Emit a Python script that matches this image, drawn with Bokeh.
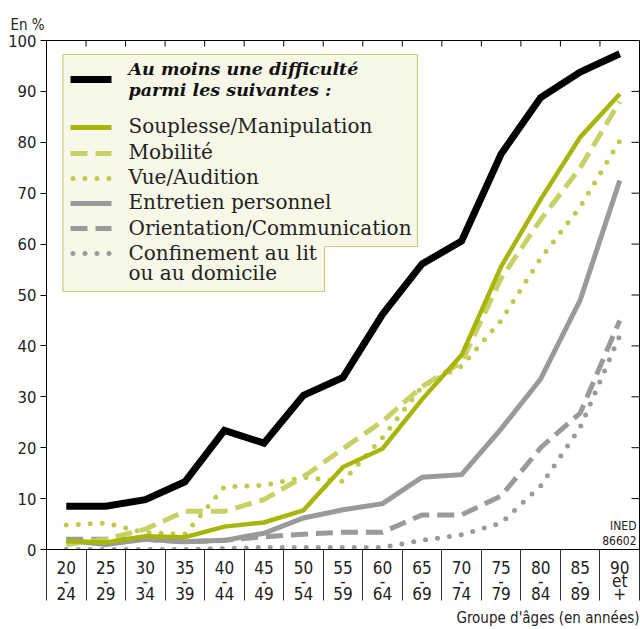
from bokeh.plotting import figure
from bokeh.models import FixedTicker, Title, Range1d
from bokeh.core.properties import value
from bokeh.embed import file_html
from bokeh.resources import INLINE

# ---------------- data ----------------
age_top = ["20", "25", "30", "35", "40", "45", "50", "55", "60", "65", "70", "75", "80", "85", "90"]
age_mid = ["-", "-", "-", "-", "-", "-", "-", "-", "-", "-", "-", "-", "-", "-", "et"]
age_bot = ["24", "29", "34", "39", "44", "49", "54", "59", "64", "69", "74", "79", "84", "89", "+"]

au_moins = [8.5, 8.5, 9.8, 13.3, 23.4, 20.9, 30.3, 33.8, 46.2, 56.1, 60.6, 77.7, 88.8, 93.8, 97.4]
souplesse = [1.6, 1.4, 2.6, 2.4, 4.5, 5.3, 7.7, 16.2, 19.8, 29.5, 38.2, 55.6, 68.8, 81.0, 89.5]
mobilite = [1.0, 2.0, 4.0, 7.5, 7.5, 9.8, 14.3, 19.8, 25.2, 32.0, 36.8, 53.3, 64.8, 75.0, 88.0]
vue = [4.8, 5.2, 3.3, 3.0, 12.3, 12.6, 14.2, 13.4, 22.0, 32.0, 36.0, 45.0, 57.2, 67.3, 80.3]
entretien = [1.8, 1.0, 2.0, 1.5, 1.8, 3.2, 6.2, 7.8, 9.0, 14.2, 14.7, 23.7, 33.5, 49.0, 72.5]
orientation = [2.0, 2.0, 2.0, 1.5, 1.8, 2.5, 3.0, 3.4, 3.4, 6.8, 6.8, 10.5, 20.0, 26.8, 45.0]
confinement = [0.0, 0.0, 0.0, 0.0, 0.2, 0.4, 0.4, 0.4, 0.4, 1.8, 2.9, 5.2, 12.5, 24.0, 42.0]

y_ticks = [0, 10, 20, 30, 40, 50, 60, 70, 80, 90, 100]

legend_title = ["Au moins une difficulté", "parmi les suivantes :"]
legend_labels = ["Souplesse/Manipulation", "Mobilité", "Vue/Audition",
                 "Entretien personnel", "Orientation/Communication",
                 "Confinement au lit", "ou au domicile"]

# ---------------- styles ----------------
SANS = "DejaVu Sans Condensed"
SERIF = "DejaVu Serif"
TXT = "#222222"
GREEN = "#a8b60c"
GREEN_L = "#c8d166"
GREEN_D = "#c0cb4e"
GRAY = "#9a9a9a"
DASH = "17 8"
DOT = "0 12"

n = len(age_top)
xs = list(range(n))
bounds = [i - 0.5 for i in range(n + 1)]

FW, FH = 593, 509
px_x = FW / n          # pixels per x unit
px_y = FH / 100.0      # pixels per y unit

p = figure(frame_width=FW, frame_height=FH,
           x_range=Range1d(-0.5, n - 0.5), y_range=Range1d(0, 100),
           output_backend="svg", toolbar_location=None,
           min_border_left=46, min_border_right=1,
           min_border_top=40, min_border_bottom=80)

p.background_fill_color = "white"
p.border_fill_color = "white"
p.outline_line_color = "black"
p.outline_line_width = 1
p.grid.visible = False

# title "En %"
p.title.text = "En %"
p.title.align = "left"
p.title.offset = -36
p.title.text_font = SANS
p.title.text_font_size = "15px"
p.title.text_font_style = "normal"
p.title.text_color = TXT
p.title.standoff = 14

# x axis: labels at centres, separators as minor ticks
xa = p.xaxis[0]
xa.ticker = FixedTicker(ticks=xs, minor_ticks=bounds)
xa.major_label_overrides = {i: f"{age_top[i]}\n{age_mid[i]}\n{age_bot[i]}" for i in xs}
xa.major_tick_in = 0
xa.major_tick_out = 0
xa.minor_tick_in = 0
xa.minor_tick_out = 51
xa.minor_tick_line_color = "#333333"
xa.minor_tick_line_width = 1
xa.axis_line_color = "black"
xa.major_label_standoff = -43
xa.major_label_text_font = SANS
xa.major_label_text_font_size = "17px"
xa.major_label_text_line_height = 0.66
xa.major_label_text_color = TXT

ya = p.yaxis[0]
ya.ticker = FixedTicker(ticks=y_ticks)
ya.major_tick_in = 0
ya.major_tick_out = 6
ya.minor_tick_line_color = None
ya.axis_line_color = "black"
ya.major_label_standoff = 4
ya.major_label_text_font = SANS
ya.major_label_text_font_size = "16.5px"
ya.major_label_text_color = TXT

p.add_layout(Title(text="Groupe d'âges (en années)", align="right",
                   text_font=SANS, text_font_size="15px",
                   text_font_style="normal", text_color=TXT, standoff=0), "below")

# top ticks (pointing down) and right ticks (pointing left)
inner_b = bounds[1:-1]
p.segment(x0=inner_b, y0=[100] * len(inner_b), x1=inner_b,
          y1=[100 - 6 / px_y] * len(inner_b), line_color="black", line_width=1)
rt = y_ticks[1:-1]
p.segment(x0=[n - 0.5 - 8 / px_x] * len(rt), y0=rt, x1=[n - 0.5] * len(rt), y1=rt,
          line_color="black", line_width=1)

# ---------------- series ----------------
series = [
    (confinement, GRAY, DOT, 5, "round"),
    (orientation, GRAY, DASH, 5, "butt"),
    (entretien, GRAY, "solid", 5, "butt"),
    (vue, GREEN_D, DOT, 5, "round"),
    (mobilite, GREEN_L, DASH, 5, "butt"),
    (souplesse, GREEN, "solid", 4.5, "butt"),
    (au_moins, "black", "solid", 7, "butt"),
]
for vals, col, dash, w, cap in series:
    p.line(xs, vals, line_color=col, line_width=w, line_dash=dash,
           line_cap=cap, line_join="miter")

# INED credit
p.text(x=[n - 0.5], y=[4.6], text=["INED"], text_font=value(SANS),
       text_font_size="12px", text_align="right", text_baseline="middle",
       x_offset=-3, text_color=TXT)
p.text(x=[n - 0.5], y=[1.8], text=["86602"], text_font=value(SANS),
       text_font_size="12px", text_align="right", text_baseline="middle",
       x_offset=-3, text_color=TXT)

# ---------------- legend (custom box) ----------------
def dx(px):
    return -0.5 + (px - 46) / px_x

def dy(py):
    return (549 - py) / px_y

box_x = [dx(62.5), dx(417), dx(417), dx(324), dx(324), dx(62.5)]
box_y = [dy(54), dy(54), dy(246), dy(246), dy(291), dy(291)]
p.patch(box_x, box_y, fill_color="#f8f8e8", line_color="#c8cc72", line_width=1.2)

sx0, sx1 = dx(70), dx(111)
sample_y = [dy(79), dy(127), dy(153), dy(178), dy(203), dy(228), dy(253)]
sample_style = [("black", "solid", 7, "butt"), (GREEN, "solid", 5, "butt"),
                (GREEN_L, DASH, 5, "butt"), (GREEN_D, DOT, 5, "round"),
                (GRAY, "solid", 5, "butt"), (GRAY, DASH, 5, "butt"),
                (GRAY, DOT, 5, "round")]
for yy, (col, dash, w, cap) in zip(sample_y, sample_style):
    x0 = dx(72.5) if dash == DOT else sx0
    p.line([x0, sx1], [yy, yy], line_color=col, line_width=w, line_dash=dash, line_cap=cap)

tx = dx(128)
p.text(x=[tx, tx], y=[dy(68), dy(89)], text=legend_title, text_font=value(SERIF),
       text_font_style="bold italic", text_font_size="17.5px", text_baseline="middle",
       text_color="#111111")
label_y = [dy(125), dy(151), dy(176), dy(201), dy(227), dy(252), dy(272)]
p.text(x=[tx] * len(legend_labels), y=label_y, text=legend_labels,
       text_font=value(SERIF), text_font_size="20px", text_baseline="middle",
       text_color=TXT)

open("out.html", "w").write(file_html(p, INLINE))
